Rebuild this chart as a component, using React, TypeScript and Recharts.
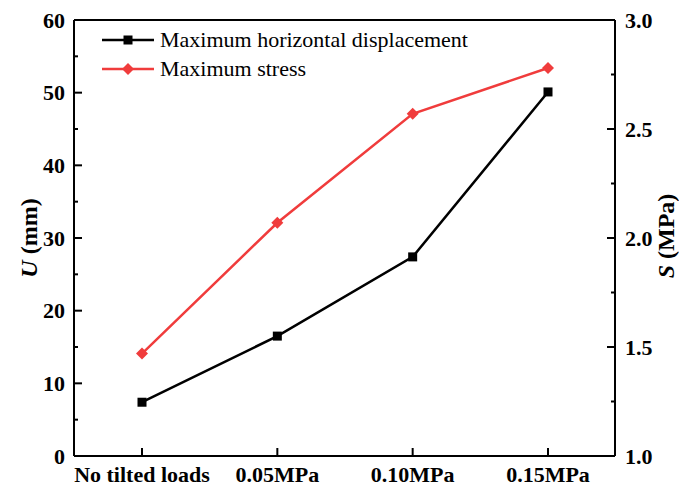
import { Legend, Line, LineChart, ReferenceLine, XAxis, YAxis } from "recharts";

const categories = ["No tilted loads", "0.05MPa", "0.10MPa", "0.15MPa"];
const displacement = [7.4, 16.5, 27.4, 50.1];
const stress = [1.47, 2.07, 2.57, 2.78];
const leftTicks = [0, 5, 10, 15, 20, 25, 30, 35, 40, 45, 50, 55, 60];
const rightTicks = [1.0, 1.25, 1.5, 1.75, 2.0, 2.25, 2.5, 2.75, 3.0];

const FONT = "'Liberation Serif', 'Times New Roman', serif";
const RED = "#F03C3C";

const data = categories.map((c, i) => ({
  name: c,
  "Maximum horizontal displacement": displacement[i],
  "Maximum stress": stress[i],
}));

const LeftTick = (props: any) => {
  const { x, y, payload } = props;
  const v = payload.value;
  const major = v % 10 === 0;
  return (
    <g>
      <line x1={x} x2={x + (major ? 8 : 4)} y1={y} y2={y} stroke="#000" strokeWidth={2} />
      {major && (
        <text x={x - 9} y={y} dy="0.35em" textAnchor="end" fontFamily={FONT} fontWeight="bold" fontSize={22} fill="#000">
          {v}
        </text>
      )}
    </g>
  );
};

const RightTick = (props: any) => {
  const { x, y, payload } = props;
  const v = payload.value;
  const major = Math.abs(v * 2 - Math.round(v * 2)) < 1e-6;
  return (
    <g>
      <line x1={x} x2={x - (major ? 8 : 4)} y1={y} y2={y} stroke="#000" strokeWidth={2} />
      {major && (
        <text x={x + 10} y={y} dy="0.35em" textAnchor="start" fontFamily={FONT} fontWeight="bold" fontSize={22} fill="#000">
          {v.toFixed(1)}
        </text>
      )}
    </g>
  );
};

const BottomTick = (props: any) => {
  const { x, y, payload } = props;
  return (
    <g>
      <line x1={x} x2={x} y1={y} y2={y - 8} stroke="#000" strokeWidth={2} />
      <text x={x} y={y + 26} textAnchor="middle" fontFamily={FONT} fontWeight="bold" fontSize={22} fill="#000">
        {payload.value}
      </text>
    </g>
  );
};

const SquareDot = (props: any) => {
  const { cx, cy } = props;
  if (cx == null || cy == null) return null;
  return <rect x={cx - 4.5} y={cy - 4.5} width={9} height={9} fill="#000" />;
};

const DiamondDot = (props: any) => {
  const { cx, cy } = props;
  if (cx == null || cy == null) return null;
  const r = 6;
  return <path d={`M${cx},${cy - r}L${cx + r},${cy}L${cx},${cy + r}L${cx - r},${cy}Z`} fill={RED} />;
};

const LegendContent = () => {
  const rows = [
    { label: "Maximum horizontal displacement", color: "#000", square: true },
    { label: "Maximum stress", color: RED, square: false },
  ];
  return (
    <div style={{ fontFamily: FONT, fontSize: 22, color: "#000" }}>
      {rows.map((r) => (
        <div key={r.label} style={{ display: "flex", alignItems: "center", height: 29 }}>
          <svg width={56} height={20} style={{ marginRight: 4 }}>
            <line x1={2} x2={54} y1={10} y2={10} stroke={r.color} strokeWidth={2.5} />
            {r.square ? (
              <rect x={23.5} y={5.5} width={9} height={9} fill={r.color} />
            ) : (
              <path d="M28,4L34,10L28,16L22,10Z" fill={r.color} />
            )}
          </svg>
          <span style={{ whiteSpace: "nowrap" }}>{r.label}</span>
        </div>
      ))}
    </div>
  );
};

const LeftTitle = () => (
  <text x={29} y={238} transform="rotate(-90 29 238)" textAnchor="middle" dominantBaseline="central" fontFamily={FONT} fontWeight="bold" fontSize={24} fill="#000">
    <tspan fontStyle="italic">U</tspan> (mm)
  </text>
);

const RightTitle = () => (
  <text x={666} y={236} transform="rotate(-90 666 236)" textAnchor="middle" dominantBaseline="central" fontFamily={FONT} fontWeight="bold" fontSize={24} fill="#000">
    <tspan fontStyle="italic">S</tspan> (MPa)
  </text>
);

export default function App() {
  return (
    <div style={{ position: "absolute", left: 0, top: 0, width: 679, height: 488, background: "#fff" }}>
      <LineChart width={679} height={488} data={data} margin={{ top: 20, right: 0, bottom: 0, left: 0 }}>
        <XAxis
          dataKey="name"
          height={32}
          padding={{ left: 68, right: 67 }}
          tickSize={0}
          tickMargin={0}
          tickLine={false}
          interval={0}
          tick={BottomTick}
          axisLine={{ stroke: "#000", strokeWidth: 2 }}
        />
        <YAxis
          yAxisId="left"
          orientation="left"
          width={74}
          domain={[0, 60]}
          ticks={leftTicks}
          interval={0}
          tickSize={0}
          tickMargin={0}
          tickLine={false}
          tick={LeftTick}
          axisLine={{ stroke: "#000", strokeWidth: 2 }}
          label={{ content: () => <LeftTitle /> }}
        />
        <YAxis
          yAxisId="right"
          orientation="right"
          width={64}
          domain={[1, 3]}
          ticks={rightTicks}
          interval={0}
          tickSize={0}
          tickMargin={0}
          tickLine={false}
          tick={RightTick}
          axisLine={{ stroke: "#000", strokeWidth: 2 }}
          label={{ content: () => <RightTitle /> }}
        />
        <ReferenceLine yAxisId="left" y={60} stroke="#000" strokeWidth={2} />
        <Line
          yAxisId="left"
          type="linear"
          dataKey="Maximum horizontal displacement"
          stroke="#000"
          strokeWidth={2.5}
          dot={SquareDot}
          activeDot={false}
          isAnimationActive={false}
        />
        <Line
          yAxisId="right"
          type="linear"
          dataKey="Maximum stress"
          stroke={RED}
          strokeWidth={2.5}
          dot={DiamondDot}
          activeDot={false}
          isAnimationActive={false}
        />
        <Legend
          layout="vertical"
          align="center"
          verticalAlign="middle"
          content={LegendContent}
          wrapperStyle={{ left: 100, top: 25, width: "auto" }}
        />
      </LineChart>
    </div>
  );
}
